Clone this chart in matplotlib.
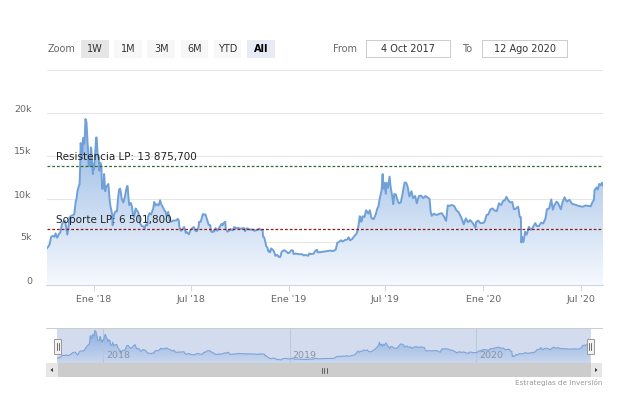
"""
Bitcoin price chart (Highcharts stock look) with support / resistance lines.
"""

import numpy as np
import pandas as pd
import matplotlib
matplotlib.use("Agg")
import matplotlib.pyplot as plt
import matplotlib.dates as mdates
from matplotlib.patches import PathPatch, Rectangle, Polygon
from matplotlib.colors import LinearSegmentedColormap
from matplotlib.transforms import ScaledTranslation

# ---------------------------------------------------------------- data
price_points = """
2017-10-04 4220
2017-10-07 4440
2017-10-10 4760
2017-10-12 5430
2017-10-13 5640
2017-10-16 5700
2017-10-19 5600
2017-10-21 6000
2017-10-24 5500
2017-10-27 5900
2017-10-30 6130
2017-11-02 7080
2017-11-05 7380
2017-11-08 7460
2017-11-10 6620
2017-11-12 5860
2017-11-14 6600
2017-11-16 7830
2017-11-19 8040
2017-11-22 8100
2017-11-25 8250
2017-11-26 8760
2017-11-28 9820
2017-11-29 9900
2017-12-01 10900
2017-12-04 11600
2017-12-05 11700
2017-12-06 13550
2017-12-07 16500
2017-12-08 16000
2017-12-09 14700
2017-12-10 15000
2017-12-11 16700
2017-12-12 17100
2017-12-13 16400
2017-12-14 16500
2017-12-15 17600
2017-12-16 19300
2017-12-17 19100
2017-12-18 18900
2017-12-19 17700
2017-12-20 16500
2017-12-21 15600
2017-12-22 13800
2017-12-23 14000
2017-12-25 13800
2017-12-26 16000
2017-12-27 15800
2017-12-28 14600
2017-12-30 12900
2017-12-31 14000
2018-01-01 13450
2018-01-03 15150
2018-01-05 17150
2018-01-06 17150
2018-01-07 16150
2018-01-08 14950
2018-01-10 14800
2018-01-11 13300
2018-01-13 14200
2018-01-15 13580
2018-01-16 11400
2018-01-17 11150
2018-01-19 11650
2018-01-20 12900
2018-01-22 10900
2018-01-24 11400
2018-01-28 11750
2018-01-30 10100
2018-02-01 9100
2018-02-02 8850
2018-02-04 8200
2018-02-05 6950
2018-02-06 7700
2018-02-08 8250
2018-02-10 8550
2018-02-13 8550
2018-02-15 10000
2018-02-17 11100
2018-02-19 11200
2018-02-21 10500
2018-02-22 10000
2018-02-25 9600
2018-02-28 10300
2018-03-02 11000
2018-03-04 11500
2018-03-05 11500
2018-03-07 9900
2018-03-08 9300
2018-03-11 9550
2018-03-13 9150
2018-03-15 8250
2018-03-17 7900
2018-03-18 8200
2018-03-20 8900
2018-03-22 8700
2018-03-25 8450
2018-03-27 7800
2018-03-29 7100
2018-04-01 6850
2018-04-04 6800
2018-04-06 6600
2018-04-08 7000
2018-04-11 6950
2018-04-12 7900
2018-04-15 8350
2018-04-18 8200
2018-04-22 8900
2018-04-24 9650
2018-04-26 9250
2018-04-29 9400
2018-05-02 9250
2018-05-05 9850
2018-05-07 9400
2018-05-10 9050
2018-05-13 8700
2018-05-15 8500
2018-05-17 8050
2018-05-20 8500
2018-05-23 7500
2018-05-26 7350
2018-05-29 7500
2018-06-01 7500
2018-06-04 7500
2018-06-07 7700
2018-06-09 7500
2018-06-10 6750
2018-06-13 6300
2018-06-16 6500
2018-06-19 6750
2018-06-22 6050
2018-06-24 6150
2018-06-28 5900
2018-07-01 6400
2018-07-04 6600
2018-07-07 6750
2018-07-10 6300
2018-07-13 6250
2018-07-16 6750
2018-07-17 7350
2018-07-20 7350
2018-07-24 8250
2018-07-26 8200
2018-07-29 8200
2018-08-01 7600
2018-08-04 7000
2018-08-07 6950
2018-08-08 6300
2018-08-10 6150
2018-08-13 6300
2018-08-14 6200
2018-08-17 6600
2018-08-20 6300
2018-08-24 6700
2018-08-28 7100
2018-08-30 6950
2018-09-01 7200
2018-09-04 7350
2018-09-05 6550
2018-09-08 6200
2018-09-11 6300
2018-09-14 6500
2018-09-18 6350
2018-09-21 6750
2018-09-24 6600
2018-09-28 6650
2018-10-02 6550
2018-10-06 6600
2018-10-10 6600
2018-10-11 6250
2018-10-15 6600
2018-10-19 6450
2018-10-24 6450
2018-10-29 6300
2018-11-03 6400
2018-11-07 6550
2018-11-10 6400
2018-11-13 6350
2018-11-14 5600
2018-11-16 5550
2018-11-19 4800
2018-11-20 4500
2018-11-22 4350
2018-11-24 3900
2018-11-25 4000
2018-11-27 3800
2018-11-29 4250
2018-12-01 4150
2018-12-04 3950
2018-12-07 3400
2018-12-10 3500
2018-12-14 3250
2018-12-16 3250
2018-12-19 3900
2018-12-21 3950
2018-12-24 4050
2018-12-28 3850
2018-12-31 3700
2019-01-03 3800
2019-01-06 4050
2019-01-09 4000
2019-01-10 3600
2019-01-14 3650
2019-01-18 3600
2019-01-22 3580
2019-01-26 3580
2019-01-29 3450
2019-02-02 3480
2019-02-07 3400
2019-02-08 3650
2019-02-13 3600
2019-02-17 3650
2019-02-19 3920
2019-02-23 4100
2019-02-24 3800
2019-03-01 3820
2019-03-05 3850
2019-03-10 3900
2019-03-15 3950
2019-03-20 4000
2019-03-25 3950
2019-03-30 4100
2019-04-02 4900
2019-04-05 5000
2019-04-09 5200
2019-04-12 5050
2019-04-17 5250
2019-04-21 5300
2019-04-23 5550
2019-04-26 5200
2019-04-30 5350
2019-05-04 5700
2019-05-08 5950
2019-05-10 6350
2019-05-12 7000
2019-05-14 7990
2019-05-16 7900
2019-05-17 7350
2019-05-20 8000
2019-05-23 7900
2019-05-26 8700
2019-05-30 8300
2019-06-02 8700
2019-06-05 7800
2019-06-09 7650
2019-06-13 8200
2019-06-16 8900
2019-06-18 9100
2019-06-21 10200
2019-06-24 11000
2019-06-26 12900
2019-06-27 11200
2019-06-29 11900
2019-07-02 10600
2019-07-03 11900
2019-07-06 11300
2019-07-09 12600
2019-07-11 11400
2019-07-14 10300
2019-07-16 9400
2019-07-18 10600
2019-07-21 10500
2019-07-24 9800
2019-07-27 9500
2019-07-30 9600
2019-08-02 10500
2019-08-06 11900
2019-08-09 11900
2019-08-12 11400
2019-08-15 10300
2019-08-19 10900
2019-08-22 10100
2019-08-26 10350
2019-08-29 9500
2019-09-02 10350
2019-09-06 10400
2019-09-10 10100
2019-09-14 10350
2019-09-18 10200
2019-09-22 10000
2019-09-24 8500
2019-09-26 8050
2019-09-30 8300
2019-10-04 8150
2019-10-08 8200
2019-10-11 8300
2019-10-15 8350
2019-10-19 7950
2019-10-23 7450
2019-10-26 9250
2019-10-29 9200
2019-11-02 9300
2019-11-07 9200
2019-11-11 8700
2019-11-15 8500
2019-11-18 8150
2019-11-22 7600
2019-11-25 7050
2019-11-29 7750
2019-12-03 7300
2019-12-07 7550
2019-12-12 7200
2019-12-17 6650
2019-12-18 7300
2019-12-22 7500
2019-12-26 7200
2019-12-31 7200
2020-01-03 7350
2020-01-07 8150
2020-01-10 8200
2020-01-14 8800
2020-01-18 8900
2020-01-22 8650
2020-01-26 8600
2020-01-30 9500
2020-02-03 9300
2020-02-07 9800
2020-02-10 9850
2020-02-13 10250
2020-02-16 9900
2020-02-20 9600
2020-02-24 9650
2020-02-27 8800
2020-03-02 8900
2020-03-06 9100
2020-03-09 7900
2020-03-11 7900
2020-03-12 4950
2020-03-13 5600
2020-03-16 5000
2020-03-19 6200
2020-03-22 5850
2020-03-26 6750
2020-03-30 6400
2020-04-03 6750
2020-04-07 7200
2020-04-10 6850
2020-04-14 6850
2020-04-18 7250
2020-04-22 7150
2020-04-26 7700
2020-04-29 8800
2020-05-03 8900
2020-05-07 9950
2020-05-10 8750
2020-05-13 9300
2020-05-17 9700
2020-05-20 9500
2020-05-25 8800
2020-05-28 9600
2020-06-01 10200
2020-06-05 9700
2020-06-10 9900
2020-06-15 9450
2020-06-20 9350
2020-06-25 9250
2020-06-30 9150
2020-07-05 9100
2020-07-10 9250
2020-07-15 9200
2020-07-20 9150
2020-07-23 9600
2020-07-26 9900
2020-07-27 11000
2020-07-31 11350
2020-08-02 11100
2020-08-05 11750
2020-08-08 11600
2020-08-10 11900
2020-08-12 11550
"""
dates = [row.split()[0] for row in price_points.strip().splitlines()]
prices = [float(row.split()[1]) for row in price_points.strip().splitlines()]

resistance = 13875.7
support = 6501.8
resistance_label = "Resistencia LP: 13 875,700"
support_label = "Soporte LP: 6 501,800"

y_ticks = [0, 5000, 10000, 15000, 20000, 25000]
y_tick_labels = ["0", "5k", "10k", "15k", "20k", ""]
x_tick_dates = ["2018-01-01", "2018-07-01", "2019-01-01", "2019-07-01", "2020-01-01", "2020-07-01"]
x_tick_labels = ["Ene '18", "Jul '18", "Ene '19", "Jul '19", "Ene '20", "Jul '20"]
nav_year_dates = ["2018-01-01", "2019-01-01", "2020-01-01"]
nav_year_labels = ["2018", "2019", "2020"]
zoom_buttons = ["1W", "1M", "3M", "6M", "YTD", "All"]
date_from = "4 Oct 2017"
date_to = "12 Ago 2020"
credits = "Estrategias de Inversión"

# ---------------------------------------------------------------- layout helpers
W, H = 619, 394


def fig_rect(x0, y0, x1, y1):
    """pixel box (top-left origin) -> figure fraction [l, b, w, h]"""
    return [x0 / W, 1 - y1 / H, (x1 - x0) / W, (y1 - y0) / H]


def gradient_fill(ax, x, y, y_base, y_top, c_top, c_bottom, zorder=1):
    poly = ax.fill_between(x, y, y_base, facecolor="none", edgecolor="none")
    patch = PathPatch(poly.get_paths()[0], transform=ax.transData,
                      facecolor="none", edgecolor="none")
    ax.add_patch(patch)
    cmap = LinearSegmentedColormap.from_list("grad", [c_bottom, c_top])
    grad = np.linspace(0, 1, 256).reshape(-1, 1)
    im = ax.imshow(grad, cmap=cmap, aspect="auto", origin="lower",
                   extent=[x[0], x[-1], y_base, y_top], zorder=zorder)
    im.set_clip_path(patch)


plt.rcParams["font.family"] = ["DejaVu Sans"]

x = mdates.date2num(pd.to_datetime(dates))
x_start = mdates.date2num(pd.Timestamp("2017-10-04"))
x_end = mdates.date2num(pd.Timestamp("2020-08-12"))

fig = plt.figure(figsize=(W / 100, H / 100), dpi=100)
fig.patch.set_facecolor("white")

# ---------------------------------------------------------------- main chart
ax = fig.add_axes(fig_rect(46.5, 70, 603, 285))
gradient_fill(ax, x, prices, 0, 25000, "#76a3db", "#f6f9fe")
ax.plot(x, prices, color="#70a0d8", linewidth=1.4, zorder=3)

ax.axhline(resistance, color="#2f6b2f", linewidth=0.9, linestyle=(0, (2.2, 1.6)), zorder=4)
ax.axhline(support, color="#8e1c1c", linewidth=0.9, linestyle=(0, (2.2, 1.6)), zorder=4)
ax.annotate(resistance_label, xy=(0, resistance), xycoords=("axes fraction", "data"),
            xytext=(6.5, 2.8), textcoords="offset points", fontsize=7.5, color="#222222",
            va="bottom", zorder=5)
ax.annotate(support_label, xy=(0, support), xycoords=("axes fraction", "data"),
            xytext=(6.5, 2.8), textcoords="offset points", fontsize=7.5, color="#222222",
            va="bottom", zorder=5)

ax.set_xlim(x_start, x_end)
ax.set_ylim(0, 25000)
ax.set_yticks(y_ticks)
ax.set_yticklabels(y_tick_labels)
ax.set_xticks(mdates.date2num(pd.to_datetime(x_tick_dates)))
ax.set_xticklabels(x_tick_labels)
ax.grid(True, axis="y", color="#e6e6e6", linewidth=0.8)
ax.set_axisbelow(True)
for side in ["top", "right", "left"]:
    ax.spines[side].set_visible(False)
ax.spines["bottom"].set_color("#ccd6eb")
ax.spines["bottom"].set_linewidth(0.8)
ax.tick_params(axis="y", length=0, pad=10.5, labelsize=6.8, labelcolor="#666666")
ax.tick_params(axis="x", length=4.5, width=0.7, color="#ccd6eb", pad=2.5,
               labelsize=6.8, labelcolor="#666666")
for lab in ax.get_yticklabels():
    lab.set_transform(lab.get_transform() + ScaledTranslation(0, 5 / 100, fig.dpi_scale_trans))

# ---------------------------------------------------------------- navigator
nav = fig.add_axes(fig_rect(57.5, 327.5, 590.5, 363))
nav.set_facecolor("#d3dcee")
gradient_fill(nav, x, prices, 0, 21000, "#86acdf", "#cfdaef")
nav.plot(x, prices, color="#7ea4d8", linewidth=0.8, zorder=3)
nav.set_xlim(x_start, x_end)
nav.set_ylim(1500, 21000)
for d, lab in zip(nav_year_dates, nav_year_labels):
    xd = mdates.date2num(pd.Timestamp(d))
    nav.axvline(xd, color="#b9c3d9", linewidth=0.6, zorder=2)
    nav.annotate(lab, xy=(xd, 0.2), xycoords=("data", "axes fraction"),
                 xytext=(2.2, 0), textcoords="offset points", fontsize=6.8,
                 color="#8c93a3", va="center", ha="left", zorder=4)
nav.set_xticks([])
nav.set_yticks([])
for s in nav.spines.values():
    s.set_visible(False)

# ---------------------------------------------------------------- UI chrome (pixel overlay)
ov = fig.add_axes([0, 0, 1, 1])
ov.set_xlim(0, W)
ov.set_ylim(H, 0)
ov.axis("off")
ov.patch.set_visible(False)

# range selector
ov.text(48, 49, "Zoom", fontsize=7, color="#666666", va="center", ha="left")
for i, lab in enumerate(zoom_buttons):
    bx = 81 + i * 33.2
    fc = "#f7f7f7"
    weight = "normal"
    tc = "#333333"
    if lab == "1W":
        fc = "#e6e6e6"
    if lab == "All":
        fc = "#e6ebf5"
        weight = "bold"
        tc = "#000000"
    ov.add_patch(Rectangle((bx, 40), 27.5, 18, facecolor=fc, edgecolor="none"))
    ov.text(bx + 13.75, 49, lab, fontsize=7, color=tc, weight=weight,
            ha="center", va="center")

ov.text(333, 48.5, "From", fontsize=7, color="#666666", va="center", ha="left")
ov.add_patch(Rectangle((366, 40), 84, 17, facecolor="white", edgecolor="#cccccc", linewidth=0.7))
ov.text(408, 48.5, date_from, fontsize=7, color="#333333", va="center", ha="center")
ov.text(462, 48.5, "To", fontsize=7, color="#666666", va="center", ha="left")
ov.add_patch(Rectangle((482, 40), 85, 17, facecolor="white", edgecolor="#cccccc", linewidth=0.7))
ov.text(524.5, 48.5, date_to, fontsize=7, color="#333333", va="center", ha="center")

# navigator outline and handles
ov.plot([46, 602], [327.5, 327.5], color="#cccccc", linewidth=0.7)
for hx in [57.5, 590]:
    ov.add_patch(Rectangle((hx - 3.5, 339), 7, 15, facecolor="#f2f2f2",
                           edgecolor="#999999", linewidth=0.7, zorder=5))
    ov.plot([hx - 1, hx - 1], [343, 350], color="#333333", linewidth=0.5, zorder=6)
    ov.plot([hx + 1, hx + 1], [343, 350], color="#333333", linewidth=0.5, zorder=6)

# scrollbar
ov.add_patch(Rectangle((46, 363), 556, 14, facecolor="#f2f2f2", edgecolor="none"))
ov.add_patch(Rectangle((57.5, 363), 533, 14, facecolor="#cccccc", edgecolor="none"))
ov.add_patch(Rectangle((46, 363), 11.5, 14, facecolor="#e6e6e6", edgecolor="none"))
ov.add_patch(Rectangle((590.5, 363), 11.5, 14, facecolor="#e6e6e6", edgecolor="none"))
ov.add_patch(Polygon([[50.5, 370], [53, 368], [53, 372]], closed=True, facecolor="#333333"))
ov.add_patch(Polygon([[597.5, 370], [595, 368], [595, 372]], closed=True, facecolor="#333333"))
for rx in [321.5, 324, 326.5]:
    ov.plot([rx, rx], [367.5, 372.5], color="#333333", linewidth=0.5)

# credits
ov.text(602, 382.5, credits, fontsize=5.2, color="#999999", ha="right", va="center")

plt.savefig("out.png", dpi=100)
